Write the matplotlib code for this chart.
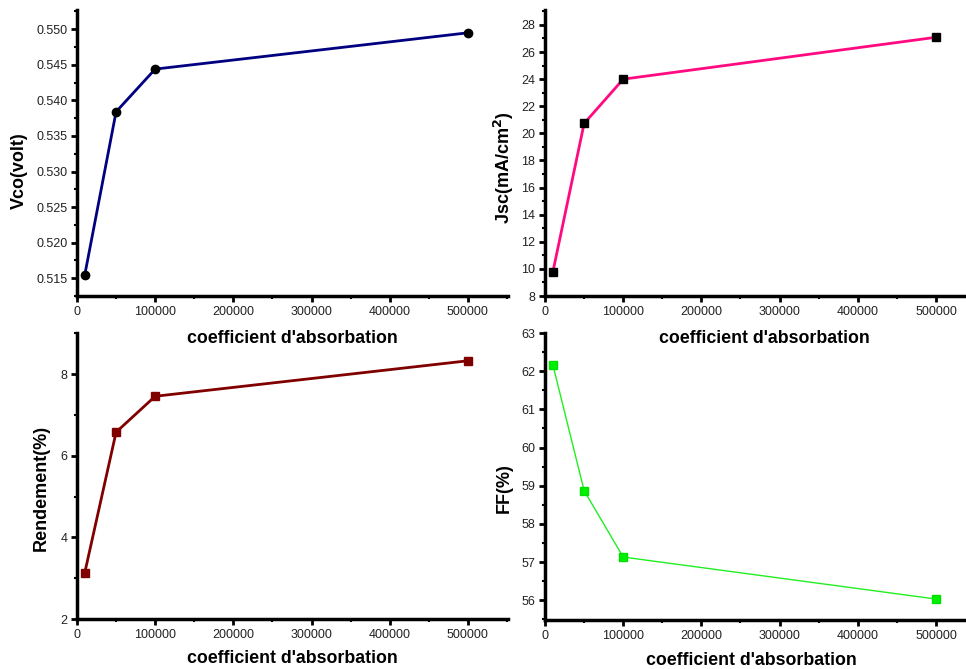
import matplotlib.pyplot as plt
from matplotlib.ticker import MultipleLocator

plt.rcParams['font.family'] = ['Liberation Sans', 'DejaVu Sans']

# absorption coefficient (x) shared by all panels
coef = [10000, 50000, 100000, 500000]

vco = [0.5155, 0.5384, 0.5444, 0.5495]
jsc = [9.77, 20.73, 24.0, 27.09]
rendement = [3.14, 6.58, 7.46, 8.33]
ff = [62.17, 58.87, 57.13, 56.03]

xlabel = "coefficient d'absorbation"

fig = plt.figure(figsize=(9.66, 6.69), dpi=100)

def style(ax, xmax, ylim, ymajor, yminor):
    ax.set_facecolor('none')
    ax.set_xlim(0, xmax)
    ax.set_ylim(*ylim)
    ax.spines['top'].set_visible(False)
    ax.spines['right'].set_visible(False)
    for s in ['left', 'bottom']:
        ax.spines[s].set_linewidth(2.5)
    ax.xaxis.set_major_locator(MultipleLocator(100000))
    ax.xaxis.set_minor_locator(MultipleLocator(50000))
    ax.yaxis.set_major_locator(MultipleLocator(ymajor))
    ax.yaxis.set_minor_locator(MultipleLocator(yminor))
    ax.tick_params(which='major', direction='out', length=4, width=2,
                   labelsize=9, pad=3, labelcolor='#222222')
    ax.tick_params(which='minor', direction='out', length=2.5, width=1.5)

# top-left: Vco
ax1 = fig.add_axes([0.0797, 0.5575, 0.446, 0.4275])
ax1.plot(coef, vco, color='#000080', lw=2, marker='o', ms=6, mfc='black', mec='black')
style(ax1, 551000, (0.5125, 0.5527), 0.005, 0.0025)
ax1.yaxis.set_major_formatter(plt.FormatStrFormatter('%.3f'))
ax1.set_ylabel('Vco(volt)', fontsize=13, fontweight='bold')
ax1.yaxis.set_label_coords(-0.114, 0.44)
ax1.set_xlabel(xlabel, fontsize=12.8, fontweight='bold')
ax1.xaxis.set_label_coords(0.5, -0.118)

# top-right: Jsc
ax2 = fig.add_axes([0.5642, 0.5575, 0.4358, 0.4275])
ax2.plot(coef, jsc, color='#FF0A80', lw=2, marker='s', ms=6, mfc='black', mec='black')
style(ax2, 538400, (8, 29.1), 2, 1)
ax2.set_ylabel('Jsc(mA/cm$^\\mathbf{2}$)', fontsize=13, fontweight='bold')
ax2.yaxis.set_label_coords(-0.069, 0.45)
ax2.set_xlabel(xlabel, fontsize=12.8, fontweight='bold')
ax2.xaxis.set_label_coords(0.52, -0.118)

# bottom-left: Rendement
ax3 = fig.add_axes([0.0797, 0.0747, 0.446, 0.4275])
ax3.plot(coef, rendement, color='#800000', lw=2, marker='s', ms=6, mfc='#800000', mec='#800000')
style(ax3, 551000, (2, 9.01), 2, 1)
ax3.set_ylabel('Rendement(%)', fontsize=13, fontweight='bold')
ax3.yaxis.set_label_coords(-0.063, 0.46)
ax3.set_xlabel(xlabel, fontsize=12.8, fontweight='bold')
ax3.xaxis.set_label_coords(0.5, -0.11)

# bottom-right: FF
ax4 = fig.add_axes([0.5642, 0.0732, 0.4358, 0.429])
ax4.plot(coef, ff, color='#22EE22', lw=1, marker='s', ms=6, mfc='#00F000', mec='#00E000')
style(ax4, 538400, (55.48, 63), 1, 0.5)
ax4.set_ylabel('FF(%)', fontsize=13, fontweight='bold')
ax4.yaxis.set_label_coords(-0.076, 0.46)
ax4.set_xlabel(xlabel, fontsize=12.8, fontweight='bold')
ax4.xaxis.set_label_coords(0.49, -0.11)

fig.savefig('out.png', dpi=100)
